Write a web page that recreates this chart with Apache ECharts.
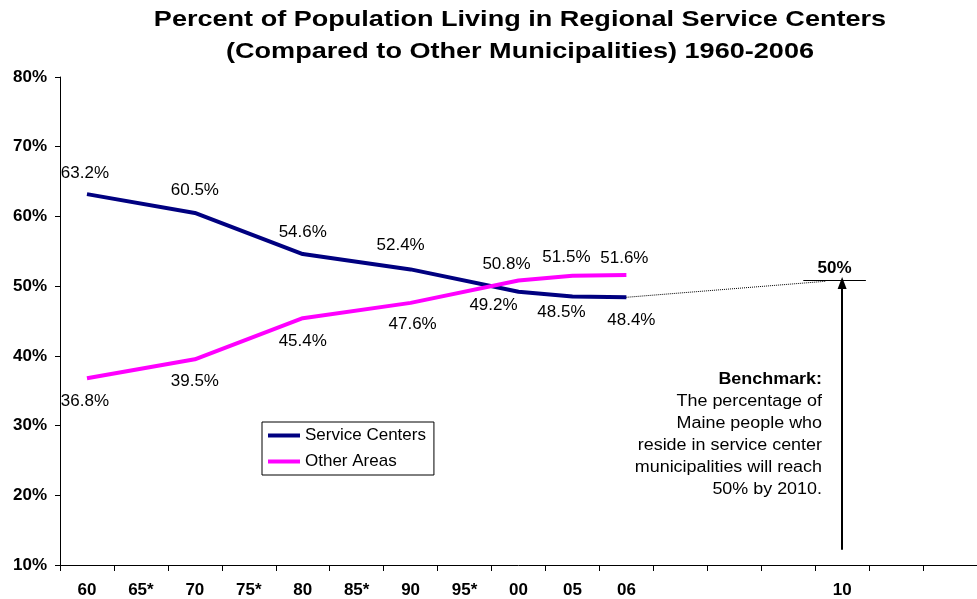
<!DOCTYPE html>
<html>
<head>
    <meta charset="utf-8">
    <script src="https://cdn.jsdelivr.net/npm/echarts@6/dist/echarts.min.js"></script>
    <style>
        body { margin: 0; background: #fff; }
    </style>
</head>
<body>
    <div id="main" style="width: 977px;height:599px;"></div>
    <script type="text/javascript">
        // categories along the x axis (blank slots up to 2010 and beyond)
        var years = ['60', '65*', '70', '75*', '80', '85*', '90', '95*', '00', '05', '06', '', '', '', '10', '', ''];
        var serviceCenters = [63.2, null, 60.5, null, 54.6, null, 52.4, null, 49.2, 48.5, 48.4, null, null, null, null, null, null];
        var otherAreas = [36.8, null, 39.5, null, 45.4, null, 47.6, null, 50.8, 51.5, 51.6, null, null, null, null, null, null];
        // dotted projection from 2006 toward the 2010 benchmark
        var projX = [10, 13.7];
        var projY = [48.4, 50.7];
        var yTicks = [10, 20, 30, 40, 50, 60, 70, 80];
        var benchmark = 50;

        // label nudges, one per point (moved by hand in the original)
        var scOffsets = [[-2, -21], null, [0, -23], null, [0, -22], null, [-10, -24], null, [-25, 14], [-11, 16], [5, 23]];
        var oaOffsets = [[-2, 23], null, [0, 22], null, [0, 23], null, [2, 21], null, [-12, -16], [-6, -18], [-2, -17]];

        function withLabels(values, offsets) {
            return values.map(function (v, i) {
                if (v === null) return null;
                return { value: v, label: { offset: offsets[i] } };
            });
        }

        var chart = echarts.init(document.getElementById('main'));
        var font = 'Liberation Sans, Arial, sans-serif';
        var ptLabel = {
            show: true, position: 'inside', color: '#000', fontSize: 17, fontFamily: font,
            formatter: function (p) { return p.value.toFixed(1) + '%'; }
        };

        option = {
            backgroundColor: '#fff',
            textStyle: { fontFamily: font },
            grid: { left: 60, right: -4, top: 77, bottom: 34 },
            legend: {
                orient: 'vertical', left: 262, top: 422,
                data: ['Service Centers', 'Other Areas'],
                icon: 'rect', itemWidth: 32, itemHeight: 4, itemGap: 9,
                borderColor: '#000', borderWidth: 1, padding: [5, 8, 5, 6],
                textStyle: { fontSize: 17, color: '#000', fontFamily: font }
            },
            graphic: [{
                type: 'text', x: 520, y: 4, scaleX: 1.23,
                style: {
                    text: 'Percent of Population Living in Regional Service Centers\n(Compared to Other Municipalities) 1960-2006',
                    font: 'bold 22px ' + font, fill: '#000', textAlign: 'center', lineHeight: 32
                }
            }, {
                type: 'text', x: 822, y: 369, scaleX: 1.12,
                style: {
                    rich: {
                        b: { fontWeight: 'bold', fontSize: 16, fontFamily: font, lineHeight: 22, fill: '#000' },
                        n: { fontSize: 16, fontFamily: font, lineHeight: 22, fill: '#000' }
                    },
                    text: '{b|Benchmark:}\n{n|The percentage of}\n{n|Maine people who}\n{n|reside in service center}\n{n|municipalities will reach}\n{n|50% by 2010.}',
                    textAlign: 'right'
                }
            }],
            xAxis: [{
                type: 'category', data: years, boundaryGap: true,
                axisLine: { lineStyle: { color: '#000', width: 1 } },
                axisTick: { show: true, length: 6, lineStyle: { color: '#000' } },
                axisLabel: { interval: 0, fontWeight: 'bold', fontSize: 17, color: '#000', margin: 17 }
            }, {
                type: 'value', min: -0.5, max: 16.5, show: false
            }],
            yAxis: {
                type: 'value', min: 10, max: 80, interval: 10,
                axisLine: { show: true, onZero: false, lineStyle: { color: '#000' } },
                axisTick: { show: true, length: 5, lineStyle: { color: '#000' } },
                splitLine: { show: false },
                axisLabel: {
                    fontWeight: 'bold', fontSize: 17, color: '#000', margin: 13,
                    formatter: function (v) { return yTicks.indexOf(v) >= 0 ? v + '%' : ''; }
                }
            },
            series: [{
                name: 'Service Centers', type: 'line', connectNulls: true,
                data: withLabels(serviceCenters, scOffsets),
                symbol: 'circle', symbolSize: 0,
                lineStyle: { color: '#000080', width: 4 }, itemStyle: { color: '#000080' },
                label: ptLabel, z: 3
            }, {
                name: 'Other Areas', type: 'line', connectNulls: true,
                data: withLabels(otherAreas, oaOffsets),
                symbol: 'circle', symbolSize: 0,
                lineStyle: { color: '#FF00FF', width: 4 }, itemStyle: { color: '#FF00FF' },
                label: ptLabel, z: 3
            }, {
                name: 'projection', type: 'line', xAxisIndex: 1,
                data: projX.map(function (x, i) { return [x, projY[i]]; }),
                symbol: 'none', silent: true,
                lineStyle: { color: '#000', width: 1, type: 'dotted' },
                markLine: {
                    silent: true, animation: false,
                    lineStyle: { color: '#000', type: 'solid' },
                    data: [
                        [{ coord: [14, 12.2], symbol: 'none', lineStyle: { width: 2 } },
                         { coord: [14, 50.45], symbol: 'triangle', symbolSize: [9, 12], symbolRotate: 0 }],
                        [{ coord: [13.28, 50.9], symbol: 'none', lineStyle: { width: 1 },
                           label: { show: true, position: 'insideMiddleTop', formatter: benchmark + '%',
                                    fontWeight: 'bold', fontSize: 17, color: '#000', distance: 3 } },
                         { coord: [14.44, 50.9], symbol: 'none' }]
                    ]
                }
            }]
        };
        chart.setOption(option);
    </script>
</body>
</html>
